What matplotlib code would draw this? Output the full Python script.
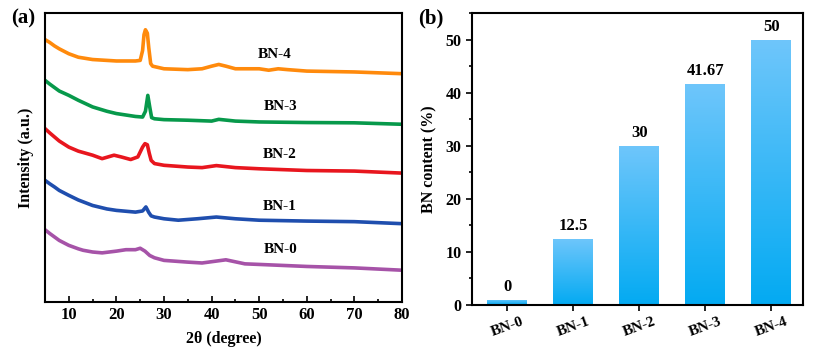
import numpy as np
import matplotlib
matplotlib.use("Agg")
import matplotlib.pyplot as plt
from matplotlib.patches import Rectangle
from matplotlib.colors import LinearSegmentedColormap

plt.rcParams['font.family'] = ['Liberation Serif', 'DejaVu Serif']
plt.rcParams['font.weight'] = 'bold'

# ---- panel (a): XRD curves (arbitrary intensity)
bn4_x = [5, 6, 7, 8, 10, 12, 15, 20, 24, 25, 25.5, 25.8, 26.1, 26.5, 26.8, 27.2, 27.6, 30, 35, 38, 40, 41.5, 43, 45, 50, 52, 54, 56, 60, 70, 80]
bn4_y = [90.8, 89.8, 88.6, 87.6, 85.9, 84.7, 83.9, 83.4, 83.4, 83.6, 87.0, 92.5, 94.2, 93.0, 88.0, 82.5, 81.6, 80.7, 80.4, 80.7, 81.6, 82.2, 81.6, 80.7, 80.7, 80.2, 80.7, 80.4, 79.9, 79.6, 79.0]
bn3_x = [5, 6, 7, 8, 10, 12, 15, 18, 20, 24, 25.5, 26.1, 26.6, 27.0, 27.4, 28, 30, 35, 40, 41.5, 45, 50, 60, 70, 80]
bn3_y = [76.7, 75.4, 74.2, 73.0, 71.5, 69.8, 67.5, 66.0, 65.2, 64.2, 64.0, 66.0, 71.5, 67.5, 63.8, 63.4, 63.1, 62.9, 62.6, 63.2, 62.6, 62.3, 62.1, 62.0, 61.5]
bn2_x = [5, 6, 7, 8, 10, 12, 15, 17, 19.5, 21, 23, 24.5, 25.5, 26.0, 26.5, 26.9, 27.3, 28, 30, 35, 38, 41, 45, 50, 60, 70, 80]
bn2_y = [60.0, 58.5, 57.1, 55.7, 53.6, 52.2, 50.8, 49.6, 50.8, 50.2, 49.3, 50.2, 53.6, 54.8, 54.4, 51.5, 49.0, 47.9, 47.3, 46.7, 46.5, 47.2, 46.5, 46.1, 45.5, 45.3, 44.6]
bn1_x = [5, 6, 7, 8, 10, 12, 15, 18, 20, 24, 25.5, 26.2, 26.8, 27.3, 28, 30, 33, 37, 41, 45, 50, 60, 70, 80]
bn1_y = [42.1, 40.9, 39.8, 38.6, 36.9, 35.3, 33.4, 32.2, 31.7, 31.1, 31.5, 32.9, 31.0, 29.8, 29.4, 28.8, 28.3, 28.8, 29.4, 28.8, 28.3, 28.0, 27.8, 27.1]
bn0_x = [5, 6, 7, 8, 10, 12, 13, 15, 17, 20, 22, 24, 25, 26, 27, 28, 30, 35, 38, 43, 47, 50, 60, 70, 80]
bn0_y = [25.0, 23.7, 22.5, 21.3, 19.6, 18.4, 17.9, 17.3, 17.0, 17.6, 18.1, 18.1, 18.6, 17.6, 16.1, 15.3, 14.4, 13.8, 13.5, 14.6, 13.2, 13.0, 12.3, 11.8, 11.0]

curve_names = ['BN-0', 'BN-1', 'BN-2', 'BN-3', 'BN-4']
curve_colors = ['#A653A8', '#1F4EAE', '#E8161E', '#07994B', '#FF8A0C']
label_x = [54.6, 54.4, 54.3, 54.4, 53.3]
label_y = [18.0, 32.9, 51.2, 67.5, 85.5]

# ---- panel (b): BN content
samples = ['BN-0', 'BN-1', 'BN-2', 'BN-3', 'BN-4']
bar_heights = [1, 12.5, 30, 41.67, 50]
bar_labels = ['0', '12.5', '30', '41.67', '50']

fig = plt.figure(figsize=(8.28, 3.64), dpi=100)
ax1 = fig.add_axes([45 / 828, 62 / 364, 357 / 828, 289 / 364])
ax2 = fig.add_axes([472 / 828, 59 / 364, 331 / 828, 292 / 364])

xs = [bn0_x, bn1_x, bn2_x, bn3_x, bn4_x]
ys = [bn0_y, bn1_y, bn2_y, bn3_y, bn4_y]
for x, y, c, name, lx, ly in zip(xs, ys, curve_colors, curve_names, label_x, label_y):
    ax1.plot(x, y, color=c, lw=2.6, solid_joinstyle='round')
    ax1.text(lx, ly, name, fontsize=11, fontweight='bold', ha='center', va='center')

ax1.set_xlim(5, 80)
ax1.set_ylim(0, 100)
ax1.set_yticks([])
ax1.set_xticks(range(10, 81, 10))
ax1.set_xticks(range(15, 80, 10), minor=True)
ax1.tick_params(axis='x', which='major', direction='in', length=4, width=1.2, labelsize=12)
ax1.tick_params(axis='x', which='minor', direction='in', length=2, width=1.2)
ax1.set_xlabel('2θ (degree)', fontsize=11.5, fontweight='bold', labelpad=6)
ax1.set_ylabel('Intensity (a.u.)', fontsize=11.5, fontweight='bold', labelpad=8)
for s in ax1.spines.values():
    s.set_linewidth(1.5)
fig.text(11 / 828, 346 / 364, '(a)', fontsize=15, fontweight='bold', va='center')

# gradient bars
cmap = LinearSegmentedColormap.from_list('blu', ['#03AAF2', '#6FC6FB'])
grad = np.linspace(0, 1, 256).reshape(-1, 1)
bar_w = 0.6
for i, h in enumerate(bar_heights):
    rect = Rectangle((i - bar_w / 2, 0), bar_w, h, facecolor='none', edgecolor='none')
    ax2.add_patch(rect)
    im = ax2.imshow(grad, cmap=cmap, origin='lower', aspect='auto',
                    extent=[i - bar_w / 2, i + bar_w / 2, 0, h], zorder=2)
    im.set_clip_path(rect)
    ax2.text(i, h + 0.9, bar_labels[i], fontsize=12, fontweight='bold', ha='center', va='bottom')

ax2.set_xlim(-0.53, 4.48)
ax2.set_ylim(0, 55)
ax2.set_xticks(range(len(samples)))
ax2.set_xticklabels(samples, rotation=20, fontsize=11, fontweight='bold')
ax2.set_yticks(range(0, 51, 10))
ax2.set_yticks(range(5, 56, 10), minor=True)
ax2.tick_params(axis='both', which='major', direction='out', length=4, width=1.2, labelsize=11.5)
ax2.tick_params(axis='x', labelsize=11)
ax2.tick_params(axis='y', which='minor', direction='out', length=2, width=1.2)
ax2.set_ylabel('BN content (%)', fontsize=11.5, fontweight='bold', labelpad=6)
for s in ax2.spines.values():
    s.set_linewidth(1.5)
fig.text(418 / 828, 346 / 364, '(b)', fontsize=15, fontweight='bold', va='center')

fig.savefig('out.png', dpi=100)
